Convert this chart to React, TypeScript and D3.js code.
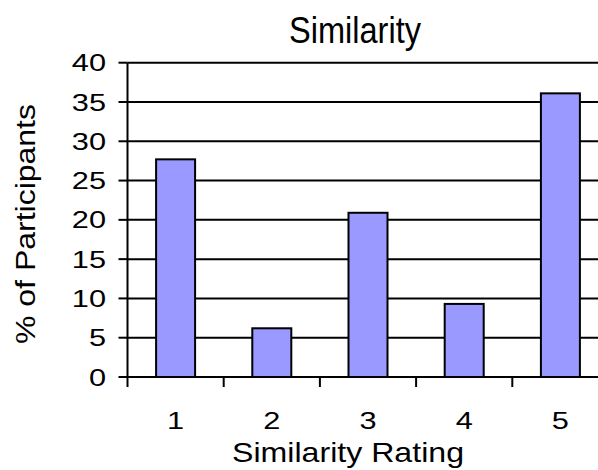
import React from "react";
import * as d3 from "d3";

const categories = ["1", "2", "3", "4", "5"];
const values = [27.7, 6.2, 20.9, 9.3, 36.1];
const yTicks = [0, 5, 10, 15, 20, 25, 30, 35, 40];
const title = "Similarity";
const xTitle = "Similarity Rating";
const yTitle = "% of Participants";

export default function App() {
  const W = 598, H = 470;
  const left = 127.5, right = 608.5, top = 62.7, bottom = 377;
  const x = d3.scaleBand<string>().domain(categories).range([left, right]);
  const y = d3.scaleLinear().domain([0, 40]).range([bottom, top]);
  const font = "'Liberation Sans', Arial, sans-serif";
  const bw = 39;
  const digitW = 17.1;
  return (
    <svg width={W} height={H} style={{ position: "absolute", left: 0, top: 0 }} fontFamily={font}>
      <rect width={W} height={H} fill="#fff" />
      {yTicks.filter(t => t > 0).map(t => (
        <line key={t} x1={left} x2={right} y1={y(t)} y2={y(t)} stroke="#000" strokeWidth={2} />
      ))}
      <line x1={right} x2={right} y1={top} y2={bottom} stroke="#000" strokeWidth={2} />
      {categories.map((c, i) => {
        const cx = (x(c) as number) + x.bandwidth() / 2;
        return (
          <rect key={c} x={cx - bw / 2} y={y(values[i])} width={bw} height={bottom - y(values[i])}
            fill="#9999FF" stroke="#000" strokeWidth={2} />
        );
      })}
      <line x1={left} x2={left} y1={top} y2={bottom} stroke="#000" strokeWidth={2} />
      <line x1={left} x2={right} y1={bottom} y2={bottom} stroke="#000" strokeWidth={2} />
      {yTicks.map(t => (
        <g key={t}>
          <line x1={left - 9} x2={left} y1={y(t)} y2={y(t)} stroke="#000" strokeWidth={2} />
          <text x={106} y={y(t)} dy="0.35em" textAnchor="end" fontSize={24.5}
            textLength={String(t).length * digitW} lengthAdjust="spacingAndGlyphs">{t}</text>
        </g>
      ))}
      {categories.map(c => (
        <line key={"t" + c} x1={x(c) as number} x2={x(c) as number} y1={bottom} y2={bottom + 10} stroke="#000" strokeWidth={2} />
      ))}
      {categories.map(c => (
        <text key={"l" + c} x={(x(c) as number) + x.bandwidth() / 2} y={429} textAnchor="middle" fontSize={24.5}
          textLength={c.length * digitW} lengthAdjust="spacingAndGlyphs">{c}</text>
      ))}
      <text x={355} y={43} textAnchor="middle" fontSize={36} textLength={132} lengthAdjust="spacingAndGlyphs">{title}</text>
      <text x={348} y={462} textAnchor="middle" fontSize={28} textLength={232} lengthAdjust="spacingAndGlyphs">{xTitle}</text>
      <text transform={`translate(35,224) rotate(-90)`} textAnchor="middle" fontSize={27}
        textLength={240} lengthAdjust="spacingAndGlyphs">{yTitle}</text>
    </svg>
  );
}
